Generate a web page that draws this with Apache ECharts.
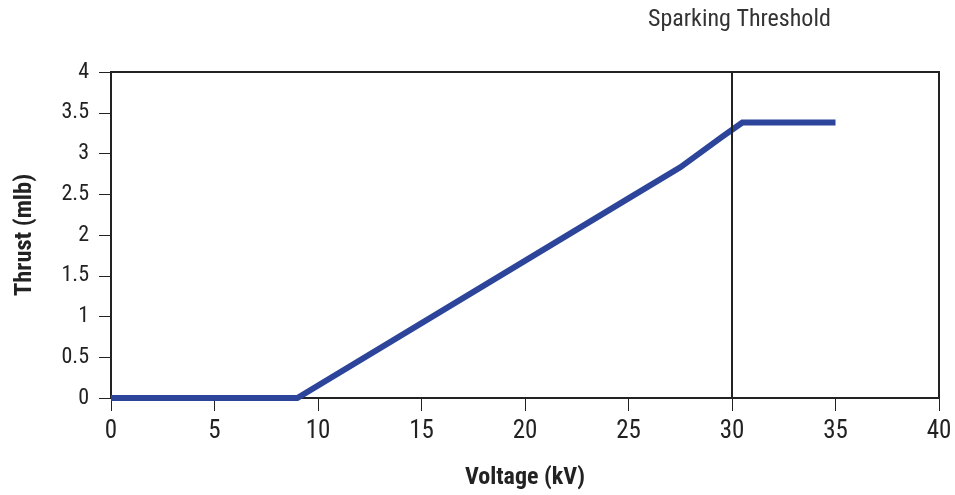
<!DOCTYPE html>
<html><head><meta charset="utf-8">
<script src="https://cdn.jsdelivr.net/npm/echarts@6/dist/echarts.min.js"></script>
<style>html,body{margin:0;padding:0;background:#fff}#c{width:955px;height:495px}</style>
</head><body><div id="c"></div>
<script>
const voltage = [0, 9, 25, 27.5, 29.5, 30.5, 35];
const thrust = [0, 0, 2.45, 2.83, 3.2, 3.38, 3.38];
const yTicks = ['0','0.5','1','1.5','2','2.5','3','3.5','4'];
const threshold = 30;
const F = '"Liberation Sans Narrow","Roboto Condensed","DejaVu Sans Condensed",sans-serif';
const chart = echarts.init(document.getElementById('c'));
chart.setOption({
  animation: false,
  grid: {left: 111, right: 16, top: 72, bottom: 96, show: true, borderColor: '#222', borderWidth: 2},
  graphic: [{type: 'text', left: 648, top: 8, style: {text: 'Sparking Threshold', font: '24px ' + F, fill: '#333'}}],
  xAxis: {
    type: 'value', min: 0, max: 40, interval: 5,
    name: 'Voltage (kV)', nameLocation: 'middle', nameGap: 68,
    nameTextStyle: {fontFamily: F, fontSize: 24, fontWeight: 'bold', color: '#222'},
    axisLine: {lineStyle: {color: '#222', width: 2}},
    axisTick: {length: 13, lineStyle: {color: '#222'}},
    axisLabel: {fontFamily: F, fontSize: 25, color: '#222', margin: 21},
    splitLine: {show: false}
  },
  yAxis: {
    type: 'value', min: 0, max: 4, interval: 0.5,
    name: 'Thrust (mlb)', nameLocation: 'middle', nameGap: 74, nameRotate: 90,
    nameTextStyle: {fontFamily: F, fontSize: 24.5, fontWeight: 'bold', color: '#222'},
    axisLine: {show: true, lineStyle: {color: '#222', width: 2}},
    axisTick: {show: true, length: 12, lineStyle: {color: '#222'}},
    axisLabel: {fontFamily: F, fontSize: 22, color: '#222', margin: 22, formatter: v => yTicks[Math.round(v * 2)]},
    splitLine: {show: false}
  },
  series: [{
    type: 'line', data: voltage.map((v, i) => [v, thrust[i]]),
    symbol: 'none', lineStyle: {color: '#2c459b', width: 6, join: 'miter'},
    markLine: {silent: true, symbol: 'none', label: {show: false},
      lineStyle: {color: '#222', width: 2, type: 'solid'},
      data: [{xAxis: threshold}]}
  }]
});
</script></body></html>
